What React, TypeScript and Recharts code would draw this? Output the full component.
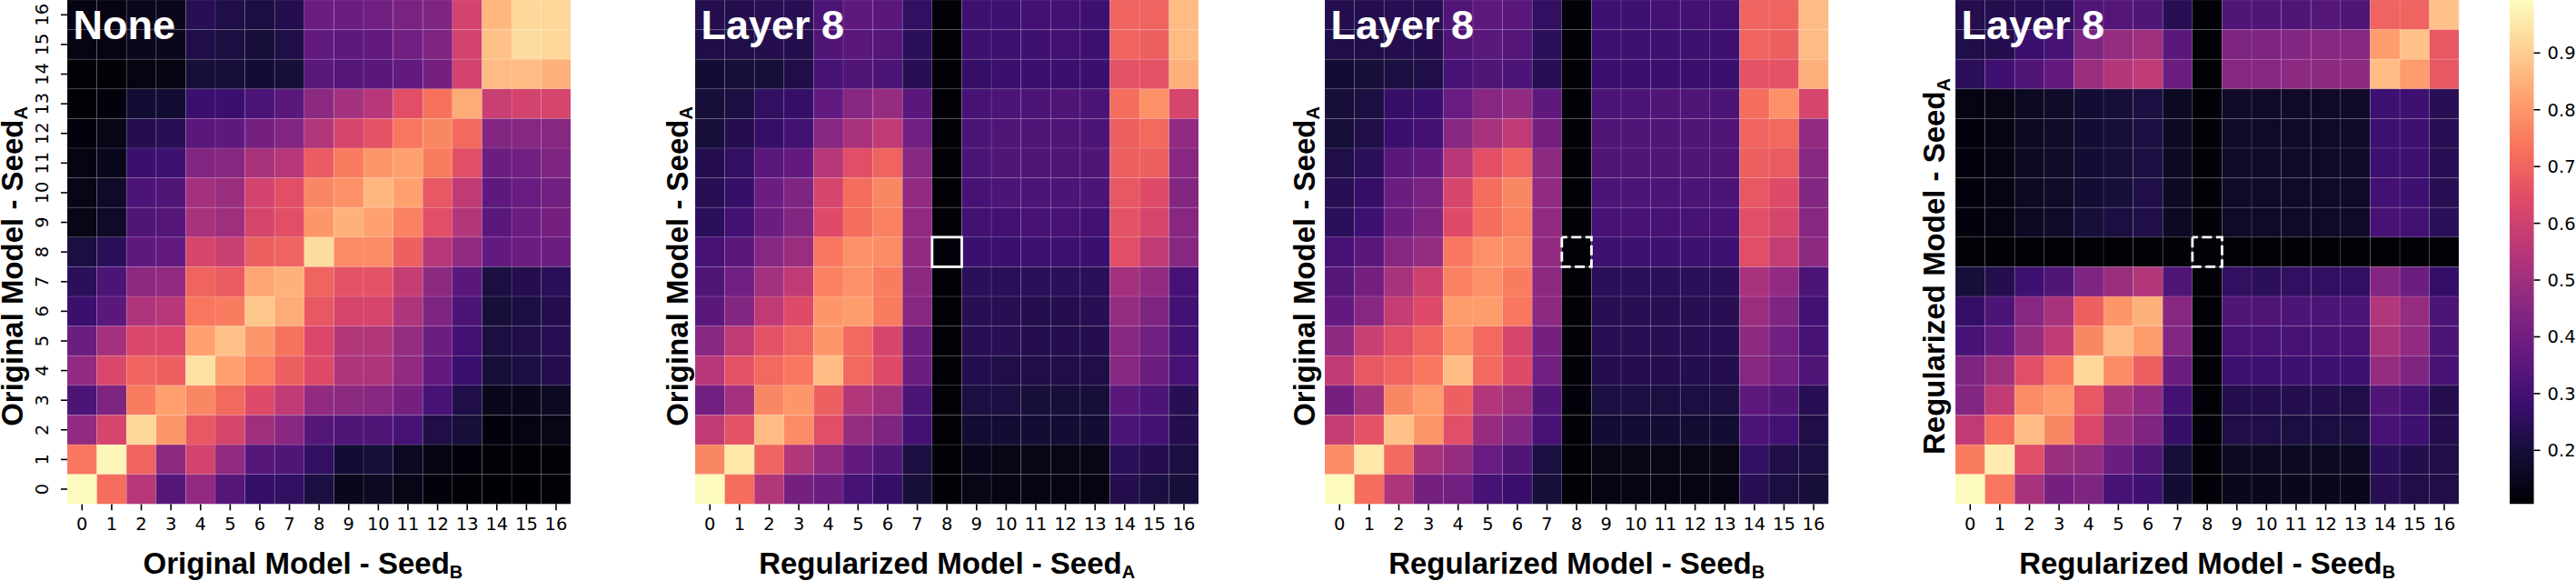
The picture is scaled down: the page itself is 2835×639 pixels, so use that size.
import { ScatterChart, Scatter, XAxis, YAxis, ReferenceArea, ComposedChart } from "recharts";

// value range of the colour bar
const VMIN = 0.1055;
const VMAX = 0.9934;
const cbarTicks = [0.2, 0.3, 0.4, 0.5, 0.6, 0.7, 0.8, 0.9];
const seedTicks = [0, 1, 2, 3, 4, 5, 6, 7, 8, 9, 10, 11, 12, 13, 14, 15, 16];
// the ablated layer that gets outlined
const markedCell = [{ x: 8, y: 8 }];

// rows listed from seed 16 (top) down to seed 0 (bottom), columns seed 0..16
const noneRows = [
  [0.13, 0.13, 0.15, 0.15, 0.24, 0.22, 0.21, 0.23, 0.39, 0.39, 0.40, 0.42, 0.43, 0.61, 0.86, 0.92, 0.92],
  [0.13, 0.13, 0.15, 0.15, 0.22, 0.21, 0.20, 0.22, 0.37, 0.36, 0.37, 0.40, 0.43, 0.61, 0.88, 0.93, 0.92],
  [0.11, 0.11, 0.13, 0.13, 0.20, 0.20, 0.19, 0.20, 0.35, 0.34, 0.35, 0.37, 0.41, 0.61, 0.87, 0.87, 0.85],
  [0.11, 0.12, 0.19, 0.19, 0.28, 0.28, 0.32, 0.35, 0.46, 0.51, 0.55, 0.65, 0.73, 0.84, 0.59, 0.61, 0.62],
  [0.12, 0.14, 0.23, 0.24, 0.35, 0.36, 0.41, 0.44, 0.54, 0.62, 0.66, 0.74, 0.77, 0.71, 0.44, 0.45, 0.45],
  [0.13, 0.15, 0.28, 0.29, 0.44, 0.45, 0.52, 0.55, 0.68, 0.75, 0.80, 0.82, 0.75, 0.65, 0.39, 0.40, 0.43],
  [0.14, 0.17, 0.32, 0.33, 0.51, 0.49, 0.61, 0.65, 0.77, 0.79, 0.86, 0.82, 0.67, 0.57, 0.36, 0.38, 0.40],
  [0.14, 0.17, 0.33, 0.34, 0.52, 0.50, 0.62, 0.65, 0.80, 0.85, 0.82, 0.76, 0.65, 0.54, 0.35, 0.39, 0.41],
  [0.21, 0.25, 0.36, 0.37, 0.62, 0.59, 0.69, 0.70, 0.93, 0.78, 0.78, 0.69, 0.55, 0.47, 0.37, 0.39, 0.39],
  [0.25, 0.32, 0.46, 0.47, 0.70, 0.68, 0.83, 0.85, 0.70, 0.66, 0.66, 0.58, 0.46, 0.35, 0.21, 0.23, 0.25],
  [0.28, 0.35, 0.53, 0.55, 0.74, 0.75, 0.89, 0.84, 0.67, 0.62, 0.62, 0.53, 0.43, 0.32, 0.20, 0.21, 0.23],
  [0.39, 0.51, 0.63, 0.63, 0.82, 0.88, 0.80, 0.73, 0.63, 0.54, 0.54, 0.48, 0.39, 0.30, 0.21, 0.22, 0.24],
  [0.47, 0.63, 0.70, 0.69, 0.94, 0.82, 0.76, 0.69, 0.64, 0.53, 0.53, 0.47, 0.37, 0.28, 0.20, 0.21, 0.23],
  [0.32, 0.43, 0.75, 0.82, 0.77, 0.71, 0.64, 0.57, 0.47, 0.46, 0.45, 0.41, 0.31, 0.22, 0.15, 0.15, 0.16],
  [0.47, 0.62, 0.92, 0.80, 0.67, 0.62, 0.50, 0.45, 0.34, 0.33, 0.33, 0.31, 0.22, 0.20, 0.12, 0.13, 0.14],
  [0.74, 0.98, 0.70, 0.46, 0.61, 0.47, 0.34, 0.33, 0.26, 0.19, 0.20, 0.16, 0.13, 0.12, 0.11, 0.11, 0.11],
  [0.99, 0.72, 0.55, 0.34, 0.47, 0.34, 0.27, 0.26, 0.21, 0.15, 0.16, 0.14, 0.12, 0.11, 0.107, 0.107, 0.11],
];

const origVsRegA = [
  [0.23, 0.23, 0.24, 0.24, 0.32, 0.36, 0.35, 0.26, 0.11, 0.29, 0.29, 0.30, 0.30, 0.29, 0.70, 0.70, 0.87],
  [0.22, 0.22, 0.23, 0.23, 0.33, 0.35, 0.34, 0.25, 0.11, 0.29, 0.29, 0.29, 0.30, 0.29, 0.70, 0.69, 0.87],
  [0.19, 0.20, 0.20, 0.22, 0.31, 0.33, 0.32, 0.24, 0.11, 0.27, 0.28, 0.28, 0.28, 0.28, 0.66, 0.66, 0.85],
  [0.20, 0.21, 0.26, 0.27, 0.37, 0.45, 0.48, 0.35, 0.11, 0.31, 0.32, 0.32, 0.33, 0.32, 0.72, 0.79, 0.62],
  [0.20, 0.23, 0.27, 0.30, 0.45, 0.52, 0.57, 0.40, 0.11, 0.32, 0.33, 0.33, 0.33, 0.32, 0.69, 0.71, 0.47],
  [0.23, 0.26, 0.35, 0.37, 0.55, 0.65, 0.70, 0.45, 0.11, 0.32, 0.33, 0.33, 0.33, 0.33, 0.69, 0.69, 0.45],
  [0.24, 0.27, 0.39, 0.43, 0.62, 0.72, 0.77, 0.47, 0.11, 0.31, 0.32, 0.32, 0.32, 0.32, 0.67, 0.64, 0.44],
  [0.25, 0.30, 0.39, 0.44, 0.64, 0.72, 0.76, 0.47, 0.11, 0.30, 0.30, 0.31, 0.31, 0.30, 0.66, 0.62, 0.45],
  [0.31, 0.35, 0.45, 0.49, 0.74, 0.79, 0.78, 0.47, 0.115, 0.28, 0.28, 0.29, 0.29, 0.28, 0.65, 0.57, 0.45],
  [0.33, 0.40, 0.51, 0.57, 0.76, 0.79, 0.75, 0.46, 0.11, 0.25, 0.25, 0.25, 0.25, 0.25, 0.51, 0.47, 0.31],
  [0.35, 0.44, 0.57, 0.64, 0.80, 0.81, 0.75, 0.45, 0.11, 0.24, 0.24, 0.23, 0.23, 0.24, 0.48, 0.43, 0.30],
  [0.45, 0.57, 0.66, 0.70, 0.80, 0.71, 0.62, 0.39, 0.11, 0.24, 0.24, 0.23, 0.23, 0.23, 0.45, 0.40, 0.30],
  [0.55, 0.66, 0.71, 0.74, 0.87, 0.71, 0.64, 0.39, 0.11, 0.23, 0.22, 0.22, 0.22, 0.22, 0.45, 0.39, 0.31],
  [0.40, 0.51, 0.77, 0.80, 0.69, 0.54, 0.50, 0.32, 0.11, 0.21, 0.21, 0.20, 0.20, 0.20, 0.35, 0.32, 0.24],
  [0.57, 0.66, 0.87, 0.78, 0.65, 0.48, 0.43, 0.30, 0.11, 0.19, 0.19, 0.19, 0.19, 0.19, 0.32, 0.30, 0.23],
  [0.77, 0.95, 0.70, 0.54, 0.47, 0.37, 0.33, 0.21, 0.11, 0.15, 0.14, 0.14, 0.14, 0.14, 0.25, 0.23, 0.21],
  [0.99, 0.72, 0.54, 0.41, 0.39, 0.31, 0.27, 0.20, 0.11, 0.14, 0.13, 0.13, 0.13, 0.13, 0.23, 0.21, 0.20],
];

const origVsRegB = [
  [0.23, 0.23, 0.24, 0.24, 0.33, 0.36, 0.35, 0.26, 0.11, 0.29, 0.29, 0.30, 0.30, 0.30, 0.70, 0.70, 0.87],
  [0.22, 0.22, 0.23, 0.23, 0.33, 0.35, 0.34, 0.25, 0.11, 0.29, 0.29, 0.29, 0.29, 0.29, 0.70, 0.69, 0.87],
  [0.19, 0.20, 0.21, 0.22, 0.31, 0.33, 0.32, 0.24, 0.11, 0.28, 0.28, 0.28, 0.28, 0.28, 0.66, 0.66, 0.85],
  [0.20, 0.21, 0.27, 0.28, 0.38, 0.45, 0.47, 0.36, 0.11, 0.32, 0.32, 0.33, 0.33, 0.32, 0.72, 0.79, 0.62],
  [0.20, 0.22, 0.28, 0.30, 0.45, 0.52, 0.57, 0.41, 0.11, 0.33, 0.33, 0.33, 0.33, 0.33, 0.70, 0.71, 0.47],
  [0.22, 0.25, 0.35, 0.37, 0.55, 0.65, 0.70, 0.46, 0.11, 0.33, 0.33, 0.33, 0.33, 0.33, 0.69, 0.68, 0.45],
  [0.24, 0.27, 0.39, 0.42, 0.62, 0.72, 0.77, 0.47, 0.11, 0.32, 0.32, 0.32, 0.32, 0.32, 0.67, 0.64, 0.44],
  [0.25, 0.29, 0.39, 0.43, 0.64, 0.72, 0.76, 0.47, 0.11, 0.31, 0.31, 0.31, 0.31, 0.31, 0.65, 0.62, 0.45],
  [0.31, 0.35, 0.45, 0.48, 0.74, 0.79, 0.78, 0.47, 0.11, 0.29, 0.29, 0.29, 0.29, 0.29, 0.65, 0.58, 0.46],
  [0.34, 0.41, 0.52, 0.60, 0.76, 0.79, 0.75, 0.46, 0.11, 0.25, 0.25, 0.25, 0.25, 0.25, 0.52, 0.47, 0.32],
  [0.37, 0.45, 0.58, 0.64, 0.81, 0.81, 0.74, 0.46, 0.11, 0.24, 0.24, 0.24, 0.24, 0.24, 0.49, 0.43, 0.30],
  [0.46, 0.59, 0.65, 0.70, 0.79, 0.71, 0.62, 0.41, 0.11, 0.24, 0.24, 0.24, 0.24, 0.24, 0.46, 0.40, 0.31],
  [0.57, 0.67, 0.70, 0.74, 0.87, 0.71, 0.64, 0.40, 0.11, 0.23, 0.23, 0.23, 0.23, 0.23, 0.45, 0.40, 0.33],
  [0.41, 0.51, 0.77, 0.81, 0.69, 0.54, 0.50, 0.33, 0.115, 0.21, 0.21, 0.21, 0.21, 0.21, 0.36, 0.33, 0.24],
  [0.58, 0.66, 0.88, 0.80, 0.65, 0.48, 0.44, 0.31, 0.11, 0.19, 0.19, 0.19, 0.19, 0.19, 0.32, 0.30, 0.22],
  [0.78, 0.95, 0.71, 0.52, 0.48, 0.38, 0.33, 0.21, 0.11, 0.14, 0.14, 0.14, 0.14, 0.14, 0.26, 0.22, 0.21],
  [0.99, 0.72, 0.53, 0.41, 0.40, 0.31, 0.28, 0.20, 0.11, 0.13, 0.13, 0.13, 0.13, 0.13, 0.24, 0.21, 0.20],
];

const regAVsRegB = [
  [0.23, 0.23, 0.24, 0.25, 0.33, 0.34, 0.33, 0.24, 0.11, 0.33, 0.33, 0.33, 0.34, 0.33, 0.70, 0.70, 0.88],
  [0.22, 0.23, 0.28, 0.31, 0.43, 0.48, 0.50, 0.35, 0.11, 0.43, 0.43, 0.44, 0.45, 0.45, 0.81, 0.88, 0.67],
  [0.25, 0.29, 0.33, 0.37, 0.49, 0.54, 0.57, 0.39, 0.11, 0.45, 0.45, 0.46, 0.46, 0.46, 0.87, 0.81, 0.67],
  [0.13, 0.14, 0.16, 0.17, 0.19, 0.20, 0.21, 0.16, 0.11, 0.17, 0.17, 0.17, 0.17, 0.17, 0.29, 0.29, 0.24],
  [0.12, 0.13, 0.16, 0.17, 0.19, 0.20, 0.21, 0.16, 0.11, 0.17, 0.17, 0.17, 0.17, 0.17, 0.29, 0.29, 0.24],
  [0.12, 0.13, 0.16, 0.17, 0.19, 0.20, 0.21, 0.16, 0.11, 0.17, 0.17, 0.17, 0.17, 0.17, 0.29, 0.29, 0.24],
  [0.12, 0.13, 0.16, 0.17, 0.19, 0.20, 0.22, 0.16, 0.11, 0.17, 0.17, 0.17, 0.17, 0.17, 0.30, 0.29, 0.24],
  [0.12, 0.13, 0.16, 0.17, 0.20, 0.21, 0.22, 0.16, 0.11, 0.17, 0.17, 0.17, 0.17, 0.17, 0.31, 0.30, 0.25],
  [0.11, 0.11, 0.11, 0.11, 0.11, 0.11, 0.11, 0.11, 0.11, 0.11, 0.11, 0.11, 0.11, 0.11, 0.11, 0.11, 0.11],
  [0.20, 0.23, 0.29, 0.33, 0.43, 0.49, 0.54, 0.33, 0.11, 0.26, 0.25, 0.26, 0.26, 0.26, 0.44, 0.39, 0.27],
  [0.27, 0.32, 0.45, 0.52, 0.69, 0.80, 0.85, 0.45, 0.11, 0.33, 0.33, 0.32, 0.32, 0.32, 0.54, 0.48, 0.32],
  [0.31, 0.37, 0.48, 0.57, 0.77, 0.87, 0.81, 0.44, 0.11, 0.31, 0.31, 0.31, 0.31, 0.31, 0.52, 0.47, 0.32],
  [0.43, 0.50, 0.65, 0.74, 0.92, 0.78, 0.69, 0.39, 0.11, 0.29, 0.29, 0.29, 0.29, 0.29, 0.48, 0.43, 0.31],
  [0.44, 0.57, 0.78, 0.81, 0.67, 0.52, 0.47, 0.30, 0.11, 0.23, 0.23, 0.23, 0.23, 0.22, 0.33, 0.30, 0.23],
  [0.57, 0.72, 0.87, 0.77, 0.63, 0.48, 0.43, 0.27, 0.11, 0.22, 0.22, 0.21, 0.21, 0.21, 0.31, 0.29, 0.23],
  [0.75, 0.96, 0.65, 0.49, 0.48, 0.39, 0.33, 0.20, 0.11, 0.16, 0.16, 0.16, 0.16, 0.16, 0.25, 0.23, 0.22],
  [0.99, 0.74, 0.52, 0.41, 0.43, 0.31, 0.29, 0.19, 0.11, 0.15, 0.15, 0.15, 0.15, 0.15, 0.24, 0.22, 0.22],
];

const MAGMA = [
  "#000004", "#140e36", "#3b0f70", "#641a80", "#8c2981", "#b73779",
  "#de4968", "#f7705c", "#fe9f6d", "#fecf92", "#fcfdbf",
];

function hexRgb(h: string) {
  return [1, 3, 5].map((i) => parseInt(h.slice(i, i + 2), 16));
}

function magma(v: number) {
  const t = Math.min(1, Math.max(0, (v - VMIN) / (VMAX - VMIN)));
  const p = t * (MAGMA.length - 1);
  const i = Math.min(MAGMA.length - 2, Math.floor(p));
  const f = p - i;
  const a = hexRgb(MAGMA[i]);
  const b = hexRgb(MAGMA[i + 1]);
  const c = a.map((x, k) => Math.round(x + (b[k] - x) * f));
  return `rgb(${c[0]},${c[1]},${c[2]})`;
}

const S = 554.3; // plot side
const CELL = S / 17;
const AX = 80; // room left of the plot inside each chart
const H = 639;

function toPoints(rows: number[][]) {
  return rows.flatMap((row, ri) => row.map((v, ci) => ({ x: ci, y: 16 - ri, v })));
}

function HeatCell(props: any) {
  const { cx, cy, payload } = props;
  return (
    <rect
      x={cx - CELL / 2}
      y={cy - CELL / 2}
      width={CELL}
      height={CELL}
      fill={magma(payload.v)}
      stroke="rgba(255,255,255,0.1)"
      strokeWidth={1}
    />
  );
}

function BoxMark(props: any) {
  const { cx, cy, dashed } = props;
  return (
    <rect
      x={cx - CELL / 2}
      y={cy - CELL / 2}
      width={CELL}
      height={CELL}
      fill="none"
      stroke="#fff"
      strokeWidth={2.8}
      strokeDasharray={dashed ? "11 4.5" : undefined}
      strokeDashoffset={dashed ? 5 : undefined}
    />
  );
}

function RotatedTick(props: any) {
  const { x, y, payload } = props;
  return (
    <text
      x={x}
      y={y}
      transform={`rotate(-90 ${x} ${y})`}
      textAnchor="middle"
      fontSize={19.5}
      fontFamily="DejaVu Sans"
      fill="#000"
    >
      {payload.value}
    </text>
  );
}

const labelFont = { fontFamily: "Liberation Sans, Arial, sans-serif", fontWeight: "bold" as const };

type PanelProps = {
  title: string;
  rows: number[][];
  left: number;
  xLabel: string;
  xSub: string;
  yLabel: string;
  ySub: string;
  yTicks: boolean;
  yBase: number;
  xShift?: number;
  box?: "solid" | "dashed";
};

function Panel({ title, rows, left, xLabel, xSub, yLabel, ySub, yTicks, yBase, xShift = 0, box }: PanelProps) {
  const chartLeft = left - AX;
  const yb = yBase - chartLeft;
  const yc = 293;
  const xc = AX + S / 2 + xShift;
  return (
    <div style={{ position: "absolute", left: chartLeft, top: 0, width: AX + S, height: H }}>
      <ScatterChart width={AX + S} height={H} margin={{ top: 0, right: 0, bottom: 0, left: 0 }}>
        <XAxis
          type="number"
          dataKey="x"
          domain={[-0.5, 16.5]}
          ticks={seedTicks}
          interval={0}
          height={H - S}
          axisLine={false}
          tickLine={{ stroke: "#000", strokeWidth: 1.6 }}
          tickSize={7}
          tickMargin={8}
          tick={{ fontSize: 19.5, fill: "#000", fontFamily: "DejaVu Sans" }}
        />
        <YAxis
          type="number"
          dataKey="y"
          domain={[-0.5, 16.5]}
          ticks={seedTicks}
          interval={0}
          width={AX}
          axisLine={false}
          tickLine={yTicks ? { stroke: "#000", strokeWidth: 1.6 } : false}
          tickSize={7}
          tickMargin={14}
          tick={yTicks ? <RotatedTick /> : false}
        />
        <Scatter data={toPoints(rows)} shape={<HeatCell />} isAnimationActive={false} />
        {box && (
          <Scatter data={markedCell} shape={<BoxMark dashed={box === "dashed"} />} isAnimationActive={false} />
        )}
        <text x={xc} y={631} textAnchor="middle" fontSize={33} fill="#000" {...labelFont}>
          {xLabel}
          <tspan fontSize={20} dy={5.5}>
            {xSub}
          </tspan>
        </text>
        <text
          x={yb}
          y={yc}
          transform={`rotate(-90 ${yb} ${yc})`}
          textAnchor="middle"
          fontSize={33}
          fill="#000"
          {...labelFont}
        >
          {yLabel}
          <tspan fontSize={20} dy={5.5}>
            {ySub}
          </tspan>
        </text>
      </ScatterChart>
      <svg
        width={AX + S}
        height={60}
        style={{ position: "absolute", left: 0, top: 0, pointerEvents: "none" }}
      >
        <text x={AX + 6.5} y={43} fill="#fff" fontSize={45} {...labelFont}>
          {title}
        </text>
      </svg>
    </div>
  );
}

const cbarAnchor = [
  { x: 0, y: VMIN },
  { x: 1, y: VMAX },
];

function ColorBar({ left }: { left: number }) {
  const w = 26.6;
  return (
    <div style={{ position: "absolute", left, top: 0 }}>
      <ComposedChart width={w + 80} height={H} margin={{ top: 0, right: 0, bottom: H - S, left: 0 }}>
        <defs>
          <linearGradient id="magmaBar" x1="0" y1="1" x2="0" y2="0">
            {MAGMA.map((c, i) => (
              <stop key={i} offset={`${(i * 100) / (MAGMA.length - 1)}%`} stopColor={c} />
            ))}
          </linearGradient>
        </defs>
        <XAxis type="number" dataKey="x" domain={[0, 1]} hide />
        <YAxis
          type="number"
          dataKey="y"
          orientation="right"
          domain={[VMIN, VMAX]}
          ticks={cbarTicks}
          interval={0}
          width={80}
          axisLine={false}
          tickLine={{ stroke: "#000", strokeWidth: 1.6 }}
          tickSize={7}
          tickMargin={8}
          tickFormatter={(v: number) => v.toFixed(1)}
          tick={{ fontSize: 19.5, fill: "#000", fontFamily: "DejaVu Sans" }}
          allowDataOverflow
        />
        <Scatter data={cbarAnchor} shape={() => <g />} isAnimationActive={false} />
        <ReferenceArea x1={0} x2={1} y1={VMIN} y2={VMAX} fill="url(#magmaBar)" fillOpacity={1} stroke="none" />
      </ComposedChart>
    </div>
  );
}

export default function App() {
  return (
    <div style={{ position: "absolute", left: 0, top: 0, width: 2835, height: H, background: "#fff" }}>
      <Panel
        title="None"
        rows={noneRows}
        left={74}
        xLabel="Original Model - Seed"
        xSub="B"
        yLabel="Original Model - Seed"
        ySub="A"
        yTicks
        yBase={25}
        xShift={-17.7}
      />
      <Panel
        title="Layer 8"
        rows={origVsRegA}
        left={765}
        xLabel="Regularized Model - Seed"
        xSub="A"
        yLabel="Original Model - Seed"
        ySub="A"
        yTicks={false}
        yBase={757}
        box="solid"
      />
      <Panel
        title="Layer 8"
        rows={origVsRegB}
        left={1458.3}
        xLabel="Regularized Model - Seed"
        xSub="B"
        yLabel="Original Model - Seed"
        ySub="A"
        yTicks={false}
        yBase={1447}
        box="dashed"
      />
      <Panel
        title="Layer 8"
        rows={regAVsRegB}
        left={2151.7}
        xLabel="Regularized Model - Seed"
        xSub="B"
        yLabel="Regularized Model - Seed"
        ySub="A"
        yTicks={false}
        yBase={2140}
        box="dashed"
      />
      <ColorBar left={2761.7} />
    </div>
  );
}
